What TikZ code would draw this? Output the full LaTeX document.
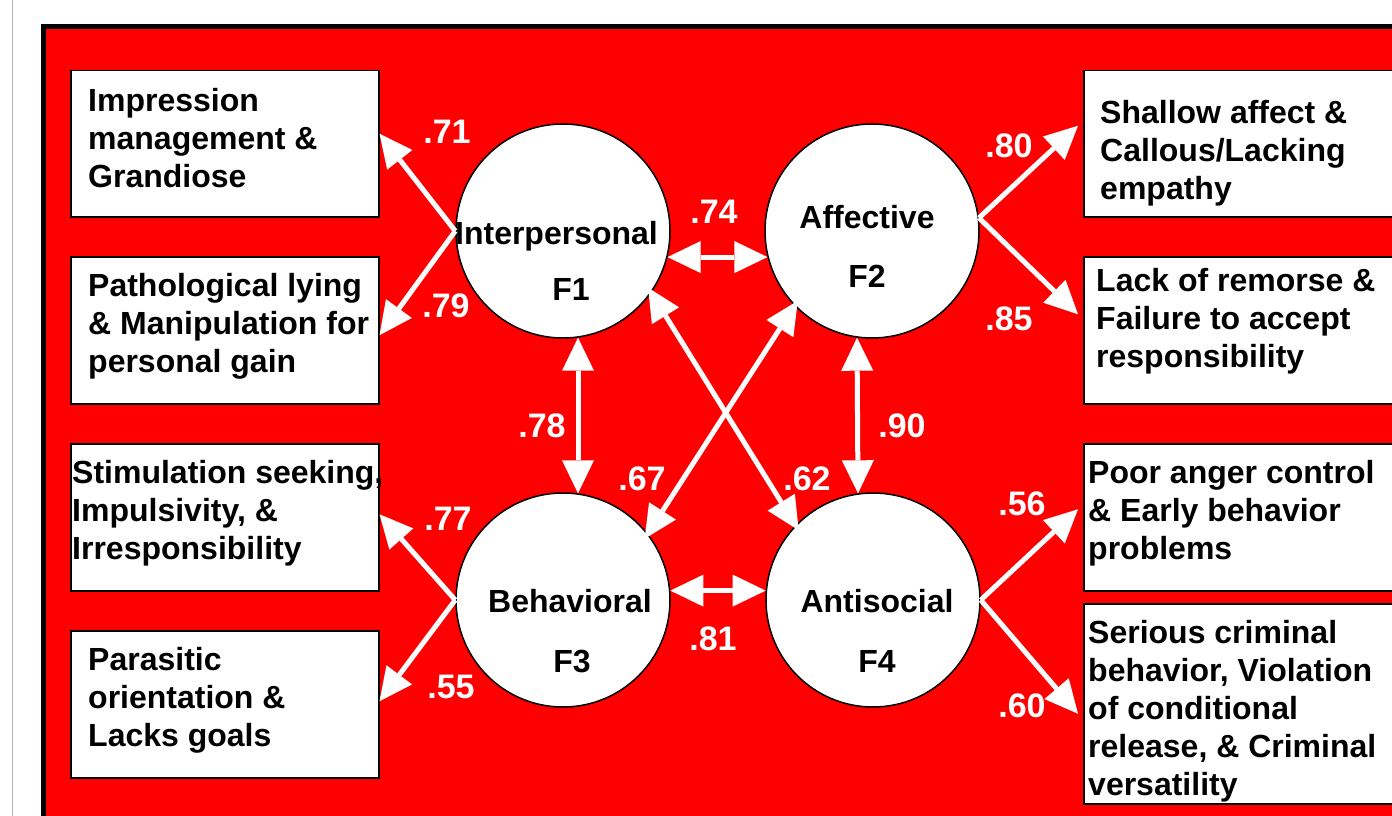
\documentclass[tikz,border=0pt]{standalone}
\usepackage{fontspec}
\setmainfont{Liberation Sans}
\usetikzlibrary{arrows.meta}
\definecolor{bgred}{RGB}{255,0,0}
\begin{document}
\begin{tikzpicture}[x=1pt,y=-1pt,
  box/.style={draw=black, line width=1.5pt, fill=white, inner sep=0pt, anchor=north west},
  circ/.style={circle, draw=black, line width=1.5pt, fill=white, minimum size=214pt, inner sep=0pt},
  txt/.style={anchor=north west, inner sep=0pt, align=left, font=\fontsize{32}{38}\selectfont\bfseries, text=black},
  ctext/.style={anchor=base, inner sep=0pt, font=\fontsize{32}{38}\selectfont\bfseries, text=black},
  lab/.style={anchor=base, inner sep=0pt, font=\fontsize{34}{40}\selectfont\bfseries, text=white},
  tip/.tip={Triangle[length=33pt,width=32pt,line width=0pt]},
  arr/.style={draw=white, line width=5pt, -tip},
  darr/.style={draw=white, line width=5pt, tip-tip}]
\useasboundingbox (0,0) rectangle (1392,816);
\clip (0,0) rectangle (1392,816);
\fill[white] (0,0) rectangle (1392,816);
\draw[black!30, line width=1.5pt] (12.5,0) -- (12.5,816);
\draw[black, line width=5pt, fill=bgred] (43.5,26.5) rectangle (1420,840);

% left boxes
\node[box, minimum width=308pt, minimum height=146pt] (L1) at (70,70) {};
\node[box, minimum width=308pt, minimum height=147pt] (L2) at (70,256) {};
\node[box, minimum width=308pt, minimum height=147pt] (L3) at (70,443) {};
\node[box, minimum width=308pt, minimum height=147pt] (L4) at (70,630) {};
% right boxes
\node[box, minimum width=340pt, minimum height=146pt] (R1) at (1083,70) {};
\node[box, minimum width=340pt, minimum height=147pt] (R2) at (1083,256) {};
\node[box, minimum width=340pt, minimum height=147pt] (R3) at (1083,443) {};
\node[box, minimum width=340pt, minimum height=200pt] (R4) at (1083,603) {};

% box texts
\node[txt] (tL1) at (88,88) {Impression\\management \&\\Grandiose};
\node[txt] (tL2) at (88,273) {Pathological lying\\\& Manipulation for\\personal gain};
\node[txt] (tL3) at (72,460) {Stimulation seeking,\\Impulsivity, \&\\Irresponsibility};
\node[txt] (tL4) at (88,647) {Parasitic\\orientation \&\\Lacks goals};
\node[txt] (tR1) at (1100,100) {Shallow affect \&\\Callous/Lacking\\empathy};
\node[txt] (tR2) at (1096,268) {Lack of remorse \&\\Failure to accept\\responsibility};
\node[txt] (tR3) at (1088,460) {Poor anger control\\\& Early behavior\\problems};
\node[txt] (tR4) at (1088,620) {Serious criminal\\behavior, Violation\\of conditional\\release, \& Criminal\\versatility};

% circles
\node[circ] (F1) at (563,231) {};
\node[circ] (F2) at (872,231) {};
\node[circ] (F3) at (563,600) {};
\node[circ] (F4) at (873,600) {};
\node[ctext] (n1) at (556.5,244) {Interpersonal};
\node[ctext] (f1) at (571,300) {F1};
\node[ctext] (n2) at (867,228) {Affective};
\node[ctext] (f2) at (867,287) {F2};
\node[ctext] (n3) at (570,612) {Behavioral};
\node[ctext] (f3) at (572,672) {F3};
\node[ctext] (n4) at (877,612) {Antisocial};
\node[ctext] (f4) at (877,672) {F4};

% loading arrows
\draw[arr] (F1.west) -- ([yshift=10pt]L1.east);
\draw[arr] (F1.west) -- ([yshift=-5pt]L2.east);
\draw[arr] (F3.west) -- ([yshift=3pt]L3.east);
\draw[arr] (F3.west) -- ([yshift=3pt]L4.east);
\draw[arr] (F2.7) -- ([xshift=-5pt,yshift=18pt]R1.west);
\draw[arr] (F2.7) -- ([xshift=-5pt,yshift=16pt]R2.west);
\draw[arr] (F4.east) -- ([xshift=-5pt,yshift=8pt]R3.west);
\draw[arr] (F4.east) -- ([xshift=-5pt,yshift=-10pt]R4.west);

% correlations
\draw[darr] (F1.-14) -- (F2.194);
\draw[darr] (F3.5) -- (F4.175);
\draw[darr] (F1.-82) -- (F3.82);
\draw[darr] (F2.-98) -- (F4.98);
\draw[darr, shorten <=-6pt, shorten >=-6pt] (F1.-35) -- (F4.136);
\draw[darr, shorten <=-6pt, shorten >=-6pt] (F2.224) -- (F3.38);

% labels
\node[lab] (l71) at (447,143) {.71};
\node[lab] (l79) at (446,317) {.79};
\node[lab] (l74) at (714,223) {.74};
\node[lab] (l80) at (1009,157) {.80};
\node[lab] (l85) at (1009,330) {.85};
\node[lab] (l78) at (542,437) {.78};
\node[lab] (l90) at (902,437) {.90};
\node[lab] (l67) at (642,490) {.67};
\node[lab] (l62) at (807,490) {.62};
\node[lab] (l77) at (448,530) {.77};
\node[lab] (l55) at (451,698) {.55};
\node[lab] (l81) at (713,650) {.81};
\node[lab] (l56) at (1022,515) {.56};
\node[lab] (l60) at (1022,717) {.60};
\end{tikzpicture}
\end{document}
